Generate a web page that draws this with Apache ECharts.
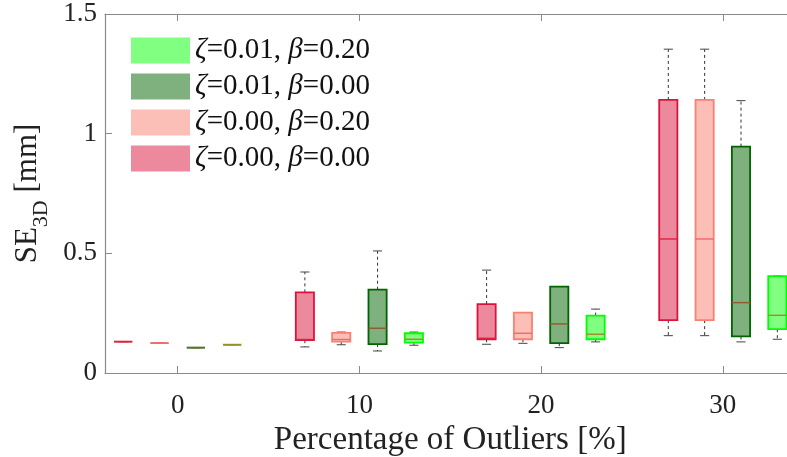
<!DOCTYPE html>
<html><head><meta charset="utf-8">
<script src="https://cdn.jsdelivr.net/npm/echarts@6/dist/echarts.min.js"></script>
<style>html,body{margin:0;padding:0;background:#fff}#c{width:787px;height:457px}</style>
</head><body><div id="c"></div>
<script>
// Group positions (percentage of outliers) and tick labels
const groups = [0, 10, 20, 30];
const tickValues = [0, 10, 20, 30];
const yTicks = [0, 0.5, 1, 1.5];
// Series names
const names = ['ζ=0.00, β=0.00', 'ζ=0.00, β=0.20', 'ζ=0.01, β=0.00', 'ζ=0.01, β=0.20'];
// Box statistics per group: [min, q1, median, q3, max]
const z000b000 = [[0.131,0.131,0.131,0.131,0.131],[0.109,0.137,0.140,0.337,0.422],[0.120,0.141,0.145,0.288,0.430],[0.156,0.221,0.560,1.141,1.353]];
const z000b020 = [[0.125,0.125,0.125,0.125,0.125],[0.118,0.131,0.140,0.168,0.171],[0.124,0.141,0.166,0.252,0.252],[0.156,0.221,0.560,1.141,1.353]];
const z001b000 = [[0.106,0.106,0.106,0.106,0.106],[0.092,0.121,0.187,0.348,0.510],[0.106,0.125,0.205,0.361,0.361],[0.130,0.153,0.294,0.946,1.138]];
const z001b020 = [[0.118,0.118,0.118,0.118,0.118],[0.116,0.127,0.141,0.166,0.171],[0.130,0.141,0.162,0.240,0.267],[0.141,0.183,0.241,0.405,0.405]];

const seriesData = [z000b000, z000b020, z001b000, z001b020];
const offsets = [-3, -1, 1, 3];
const fills = ['#ED899D', '#FCBFB8', '#7FB17F', '#80FF80'];
const edges = ['#DC143C', '#FA8072', '#006400', '#00FF00'];
const medians = ['#E0223F', '#F06868', '#8E5A2E', '#A08A2A'];
const FONT = "'Liberation Serif', 'Times New Roman', serif";

function renderItem(params, api) {
  const si = params.seriesIndex;
  const x = api.value(0);
  const pMin = api.coord([x, api.value(1)]);
  const pQ1 = api.coord([x, api.value(2)]);
  const pMed = api.coord([x, api.value(3)]);
  const pQ3 = api.coord([x, api.value(4)]);
  const pMax = api.coord([x, api.value(5)]);
  const w = api.size([1, 0])[0];
  const cw = api.size([0.5, 0])[0];
  const cx = pMed[0];
  const dash = {stroke: '#333', lineWidth: 1, lineDash: [3, 3]};
  const cap = {stroke: '#444', lineWidth: 1};
  return {
    type: 'group',
    children: [
      {type: 'line', shape: {x1: cx, y1: pQ3[1], x2: cx, y2: pMax[1]}, style: dash},
      {type: 'line', shape: {x1: cx, y1: pQ1[1], x2: cx, y2: pMin[1]}, style: dash},
      {type: 'line', shape: {x1: cx - cw/2, y1: pMax[1], x2: cx + cw/2, y2: pMax[1]}, style: cap},
      {type: 'line', shape: {x1: cx - cw/2, y1: pMin[1], x2: cx + cw/2, y2: pMin[1]}, style: cap},
      {type: 'rect', shape: {x: cx - w/2, y: pQ3[1], width: w, height: pQ1[1] - pQ3[1]},
        style: {fill: fills[si], stroke: edges[si], lineWidth: 1.8}},
      {type: 'line', shape: {x1: cx - w/2, y1: pMed[1], x2: cx + w/2, y2: pMed[1]},
        style: {stroke: medians[si], lineWidth: 1.4}}
    ]
  };
}

const series = seriesData.map((arr, si) => ({
  name: names[si],
  type: 'custom',
  renderItem: renderItem,
  clip: false,
  itemStyle: {color: fills[si]},
  encode: {x: 0, y: [1, 2, 3, 4, 5]},
  data: arr.map((s, gi) => [groups[gi] + offsets[si]].concat(s)),
  z: 2
}));

const axisColor = '#8a8a8a';
const chart = echarts.init(document.getElementById('c'), null, {renderer: 'canvas'});
chart.setOption({
  animation: false,
  backgroundColor: '#fff',
  grid: {show: false, borderWidth: 0, left: 105, top: 14, right: -8.5, bottom: 84, containLabel: false, outerBoundsMode: 'none'},
  xAxis: [{
    type: 'value', min: -4, max: 34, position: 'bottom',
    axisLine: {show: true, onZero: false, lineStyle: {color: axisColor, width: 1.2}},
    axisTick: {show: true, inside: true, length: 7, customValues: tickValues, lineStyle: {color: axisColor}},
    axisLabel: {customValues: tickValues, fontFamily: FONT, fontSize: 27, color: '#222', margin: 19},
    splitLine: {show: false},
    name: 'Percentage of Outliers [%]', nameLocation: 'middle', nameGap: 48,
    nameTextStyle: {fontFamily: FONT, fontSize: 33, color: '#222'}
  }, {
    type: 'value', min: -4, max: 34, position: 'top',
    axisLine: {show: true, onZero: false, lineStyle: {color: axisColor, width: 1.2}},
    axisTick: {show: true, inside: true, length: 7, customValues: tickValues, lineStyle: {color: axisColor}},
    axisLabel: {show: false},
    splitLine: {show: false}
  }],
  yAxis: {
    type: 'value', min: 0, max: 1.5, interval: 0.5, position: 'left',
    axisLine: {show: true, onZero: false, lineStyle: {color: axisColor, width: 1.2}},
    axisTick: {show: true, inside: true, length: 7, lineStyle: {color: axisColor}},
    axisLabel: {fontFamily: FONT, fontSize: 27, color: '#222', margin: 8,
      formatter: v => String(v)},
    splitLine: {show: false},
    name: '{m|SE}{s|3D}{m| [mm]}', nameLocation: 'middle', nameRotate: 90, nameGap: 56,
    nameTextStyle: {
      rich: {
        m: {fontFamily: FONT, fontSize: 31, color: '#222', lineHeight: 36, verticalAlign: 'top'},
        s: {fontFamily: FONT, fontSize: 22, color: '#222', lineHeight: 20, padding: [18, 0, 0, 0], verticalAlign: 'top'}
      }
    }
  },
  legend: {
    data: [names[3], names[2], names[1], names[0]],
    orient: 'vertical', left: 126, top: 31, itemWidth: 59, itemHeight: 26, itemGap: 7, icon: 'rect',
    itemStyle: {borderWidth: 0},
    formatter: n => n.replace('ζ', '{i|ζ}').replace('β', '{i|β}'),
    textStyle: {fontFamily: FONT, fontSize: 29, color: '#111', lineHeight: 26,
      rich: {i: {fontFamily: FONT, fontSize: 29, fontStyle: 'italic', color: '#111', lineHeight: 26}}}
  },
  series: series
});
</script></body></html>
